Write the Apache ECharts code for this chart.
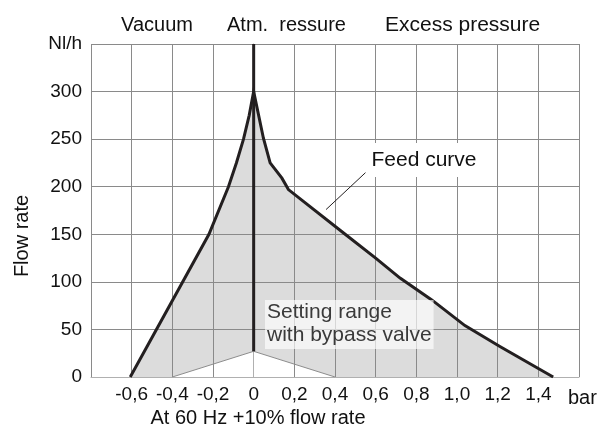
<!DOCTYPE html>
<html><head><meta charset="utf-8">
<script src="https://cdn.jsdelivr.net/npm/echarts@6/dist/echarts.min.js"></script>
<style>html,body{margin:0;padding:0;background:#fff}#c{width:601px;height:428px}</style>
</head><body><div id="c"></div>
<script>
// Feed curve (bar, Nl/h)
const feedX = [-0.607, -0.22, -0.124, -0.085, -0.05, -0.022, 0, 0.048, 0.081, 0.139, 0.171, 0.45, 0.6, 0.72, 0.876, 1.039, 1.211, 1.473];
const feedY = [0, 150, 200, 225, 250, 275, 300, 251, 225, 209, 197, 150, 125, 104, 81, 54, 32, 0];
// Lower boundary of the setting range (bypass valve)
const bypassX = [0.4, 0, -0.4];
const bypassY = [0, 27, 0];
// Atmospheric pressure line
const atmX = [0, 0];
const atmY = [27, 350];
// Leader line for "Feed curve" label
const leaderX = [0.356, 0.556];
const leaderY = [176, 216];
// Axes
const xMin = -0.8, xMax = 1.6, xStep = 0.2;
const yMin = 0, yMax = 350, yStep = 50;
const yUnitLabel = 'Nl/h';

const FONT = "'Liberation Sans', Arial, sans-serif";
const pts = (xs, ys) => xs.map((x, i) => [x, ys[i]]);
const fillX = feedX.concat(bypassX);
const fillY = feedY.concat(bypassY);

const chart = echarts.init(document.getElementById('c'), null, {renderer: 'canvas'});
chart.setOption({
  animation: false,
  backgroundColor: '#fff',
  grid: {left: 91, right: 22, top: 44, bottom: 51},
  xAxis: {
    type: 'value', min: xMin, max: xMax, interval: xStep,
    axisLine: {show: true, lineStyle: {color: '#b0b0b0', width: 1}},
    axisTick: {show: false},
    splitLine: {show: true, lineStyle: {color: '#8a8a8a', width: 1}},
    axisLabel: {
      color: '#111', fontSize: 19, fontFamily: FONT, margin: 8,
      formatter: v => {
        const r = Math.round(v * 10) / 10;
        if (Math.abs(r - xMin) < 1e-6 || Math.abs(r - xMax) < 1e-6) return '';
        if (r === 0) return '0';
        return r.toFixed(1).replace('.', ',');
      }
    }
  },
  yAxis: {
    type: 'value', min: yMin, max: yMax, interval: yStep,
    axisLine: {show: true, lineStyle: {color: '#b0b0b0', width: 1}},
    axisTick: {show: false},
    splitLine: {show: true, lineStyle: {color: '#8a8a8a', width: 1}},
    axisLabel: {
      color: '#111', fontSize: 19, fontFamily: FONT, margin: 9,
      formatter: v => (v === yMax ? yUnitLabel : String(v))
    }
  },
  series: [
    {
      type: 'custom', z: -1, silent: true,
      data: [[0, 0]],
      renderItem: (params, api) => ({
        type: 'polygon',
        shape: {points: fillX.map((x, i) => api.coord([x, fillY[i]]))},
        style: {fill: '#dcdcdc'}
      })
    },
    {
      type: 'line', data: pts(bypassX, bypassY), symbol: 'none',
      lineStyle: {color: '#8c8c8c', width: 1}, silent: true
    },
    {
      type: 'line', data: pts(atmX, atmY), symbol: 'none',
      lineStyle: {color: '#231f20', width: 3}, silent: true
    },
    {
      type: 'line', data: pts(feedX, feedY), symbol: 'none',
      lineStyle: {color: '#231f20', width: 3, join: 'miter'}, silent: true, z: 3
    },
    {
      type: 'line', data: pts(leaderX, leaderY), symbol: 'none',
      lineStyle: {color: '#231f20', width: 1}, silent: true
    }
  ],
  graphic: [
    {type: 'text', z: 100, x: 157, y: 25, style: {text: 'Vacuum', font: '20px ' + FONT, fill: '#111', align: 'center', verticalAlign: 'middle'}},
    {type: 'text', z: 100, x: 227, y: 25, style: {text: 'Atm.  ressure', font: '20px ' + FONT, fill: '#111', align: 'left', verticalAlign: 'middle'}},
    {type: 'text', z: 100, x: 385, y: 25, style: {text: 'Excess pressure', font: '21px ' + FONT, fill: '#111', align: 'left', verticalAlign: 'middle'}},
    {type: 'text', z: 100, x: 22, y: 236, rotation: Math.PI / 2, style: {text: 'Flow rate', font: '20px ' + FONT, fill: '#111', align: 'center', verticalAlign: 'middle'}},
    {type: 'text', z: 100, x: 258, y: 418, style: {text: 'At 60 Hz +10% flow rate', font: '20px ' + FONT, fill: '#111', align: 'center', verticalAlign: 'middle'}},
    {type: 'text', z: 100, x: 568, y: 398, style: {text: 'bar', font: '20px ' + FONT, fill: '#111', align: 'left', verticalAlign: 'middle'}},
    {type: 'text', z: 100, x: 424, y: 160, style: {text: 'Feed curve', font: '21px ' + FONT, fill: '#111', align: 'center', verticalAlign: 'middle', backgroundColor: '#fff', padding: [7, 6, 6, 6]}},
    {type: 'text', z: 100, x: 265, y: 300, style: {text: 'Setting range\nwith bypass valve', font: '21px ' + FONT, lineHeight: 23, fill: '#3a3a3a', align: 'left', verticalAlign: 'top', backgroundColor: 'rgba(255,255,255,0.65)', padding: [1, 2, 2, 2]}}
  ]
});
</script>
</body></html>
